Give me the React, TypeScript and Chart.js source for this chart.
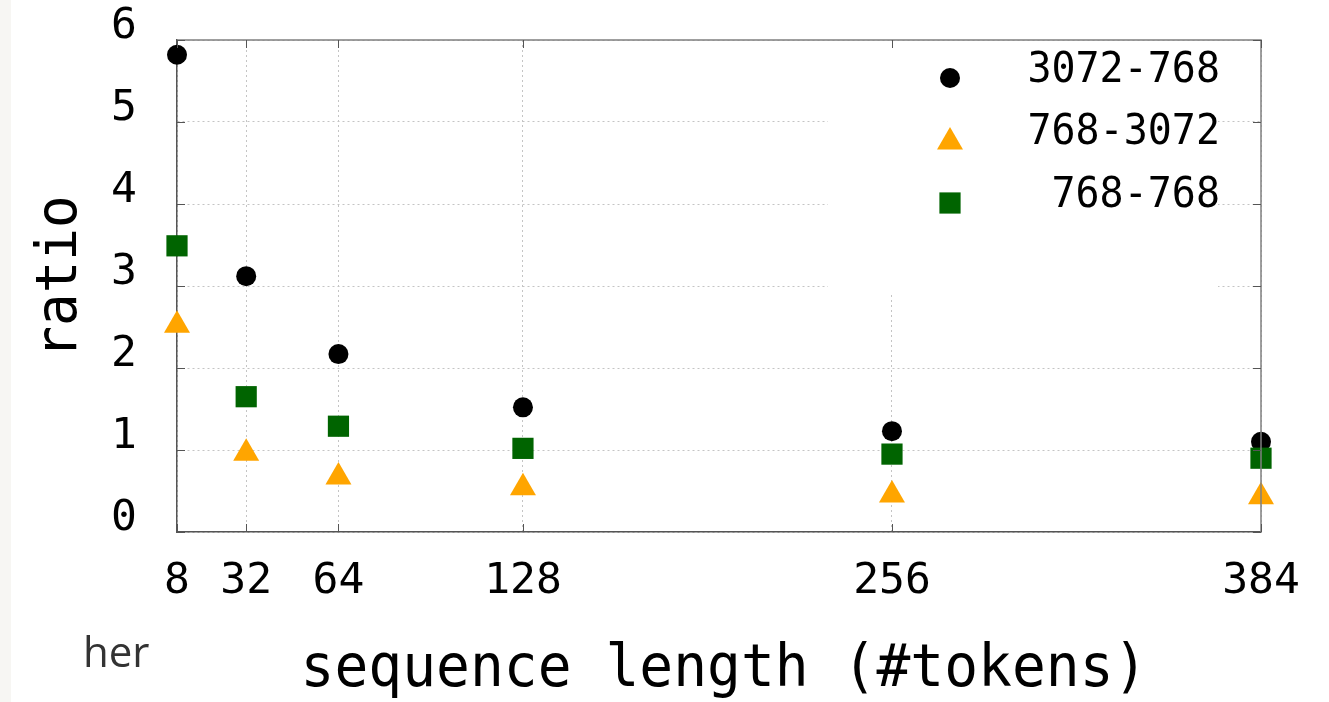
import React, { useEffect, useRef } from "react";
import { Chart, registerables } from "chart.js";
import { drawPoint } from "chart.js/helpers";

Chart.register(...registerables);

const seqLen = [8, 32, 64, 128, 256, 384];
const xTickValues = [8, 32, 64, 128, 256, 384];
const yTickValues = [0, 1, 2, 3, 4, 5, 6];
const ratio3072to768 = [5.82, 3.12, 2.17, 1.52, 1.23, 1.1];
const ratio768to3072 = [2.52, 0.96, 0.67, 0.54, 0.45, 0.43];
const ratio768to768 = [3.49, 1.65, 1.29, 1.02, 0.95, 0.9];
const seriesLabels = ["3072-768", "768-3072", "768-768"];
const seriesColors = ["#000000", "#FFA500", "#006400"];
const seriesStyles = ["circle", "triangle", "rect"];
const seriesRadius = [10, 15, 15];
const xTitle = "sequence length (#tokens)";
const yTitle = "ratio";
const strayText = "her";

const MONO = "'DejaVu Sans Mono', monospace";

const framePlugin = {
  id: "gnuplotFrame",
  beforeDatasetsDraw(chart: any) {
    const { ctx, chartArea: a } = chart;
    ctx.save();
    ctx.fillStyle = "#ffffff";
    ctx.fillRect(a.right - 433, a.top + 1, 390, 254);
    ctx.restore();
  },
  afterDatasetsDraw(chart: any) {
    const { ctx, chartArea: a, scales } = chart;
    const xs = scales.x;
    const ys = scales.y;
    ctx.save();
    ctx.strokeStyle = "#808080";
    ctx.lineWidth = 1.5;
    ctx.beginPath();
    ctx.moveTo(a.left, a.top);
    ctx.lineTo(a.right, a.top);
    ctx.lineTo(a.right, a.bottom);
    ctx.stroke();
    ctx.strokeStyle = "#555555";
    ctx.lineWidth = 1;
    const tl = 8;
    ctx.beginPath();
    xTickValues.forEach((v) => {
      const px = Math.round(xs.getPixelForValue(v)) + 0.5;
      ctx.moveTo(px, a.bottom);
      ctx.lineTo(px, a.bottom - tl);
      ctx.moveTo(px, a.top);
      ctx.lineTo(px, a.top + tl);
    });
    yTickValues.forEach((v) => {
      const py = Math.round(ys.getPixelForValue(v)) + 0.5;
      ctx.moveTo(a.left, py);
      ctx.lineTo(a.left + tl, py);
      ctx.moveTo(a.right, py);
      ctx.lineTo(a.right - tl, py);
    });
    ctx.stroke();
    ctx.restore();
  },
  afterDraw(chart: any) {
    const { ctx, chartArea: a } = chart;
    const markerX = a.right - 311;
    const textRight = a.right - 41;
    const markerY = [a.top + 38, a.top + 102, a.top + 163];
    const textBase = [a.top + 42, a.top + 104, a.top + 167];
    seriesLabels.forEach((lab, i) => {
      ctx.save();
      ctx.fillStyle = seriesColors[i];
      drawPoint(
        ctx,
        { pointStyle: seriesStyles[i], radius: seriesRadius[i], borderWidth: 0, rotation: 0 } as any,
        markerX,
        markerY[i]
      );
      ctx.restore();
      ctx.save();
      ctx.fillStyle = "#000";
      ctx.font = `43px ${MONO}`;
      ctx.textAlign = "right";
      ctx.textBaseline = "alphabetic";
      ctx.translate(textRight, textBase[i]);
      ctx.scale(0.93, 1);
      ctx.fillText(lab, 0, 0);
      ctx.restore();
    });
    ctx.save();
    ctx.fillStyle = "#000";
    ctx.font = `57px ${MONO}`;
    ctx.textAlign = "center";
    ctx.textBaseline = "alphabetic";
    ctx.translate(76, (a.top + a.bottom) / 2 - 9);
    ctx.rotate(-Math.PI / 2);
    ctx.scale(0.95, 1);
    ctx.fillText(yTitle, 0, 0);
    ctx.restore();

    ctx.save();
    ctx.fillStyle = "#000";
    ctx.font = `58px ${MONO}`;
    ctx.textAlign = "center";
    ctx.textBaseline = "alphabetic";
    ctx.translate((a.left + a.right) / 2 + 5, a.bottom + 154);
    ctx.scale(0.97, 1);
    ctx.fillText(xTitle, 0, 0);
    ctx.restore();
  },
};

export default function App() {
  const ref = useRef<HTMLCanvasElement | null>(null);

  useEffect(() => {
    if (!ref.current) return;
    const seriesData = [ratio3072to768, ratio768to3072, ratio768to768];
    const chart = new Chart(ref.current, {
      type: "scatter",
      data: {
        datasets: seriesData.map((vals, i) => ({
          label: seriesLabels[i],
          data: seqLen.map((x, j) => ({ x, y: vals[j] })),
          showLine: false,
          pointStyle: seriesStyles[i] as any,
          pointRadius: seriesRadius[i],
          pointHoverRadius: seriesRadius[i],
          backgroundColor: seriesColors[i],
          borderColor: seriesColors[i],
          pointBorderWidth: 0,
          borderWidth: 0,
          clip: false as any,
          order: 3 - i,
        })),
      },
      options: {
        responsive: false,
        maintainAspectRatio: false,
        devicePixelRatio: 1,
        animation: false,
        events: [],
        layout: { padding: { top: 40, right: 68, left: 0, bottom: 0 } },
        plugins: {
          legend: { display: false },
          tooltip: { enabled: false },
          title: { display: false },
        },
        scales: {
          x: {
            type: "linear",
            min: 8,
            max: 384,
            afterBuildTicks: (scale: any) => {
              scale.ticks = xTickValues.map((v) => ({ value: v }));
            },
            afterFit: (scale: any) => {
              scale.height = 170;
              scale.paddingLeft = 0;
              scale.paddingRight = 0;
            },
            ticks: {
              autoSkip: false,
              maxRotation: 0,
              minRotation: 0,
              padding: 24,
              color: "#000",
              font: { family: MONO, size: 43 },
              callback: (v: any) => String(v),
            },
            grid: { color: "#c4c4c4", lineWidth: 1, drawTicks: false },
            border: { display: true, color: "#555555", width: 1.5, dash: [2, 3] },
          },
          y: {
            type: "linear",
            min: 0,
            max: 6,
            afterBuildTicks: (scale: any) => {
              scale.ticks = yTickValues.map((v) => ({ value: v }));
            },
            afterFit: (scale: any) => {
              scale.width = 177;
              scale.paddingTop = 0;
              scale.paddingBottom = 0;
            },
            ticks: {
              padding: 40,
              labelOffset: -13,
              color: "#000",
              font: { family: MONO, size: 43 },
              callback: (v: any) => String(v),
            },
            grid: { color: "#c4c4c4", lineWidth: 1, drawTicks: false },
            border: { display: true, color: "#555555", width: 1.5, dash: [2, 3] },
          },
        },
      },
      plugins: [framePlugin],
    });
    return () => chart.destroy();
  }, []);

  return (
    <div
      style={{
        position: "fixed",
        left: 0,
        top: 0,
        width: 1329,
        height: 702,
        background: "#ffffff",
        overflow: "hidden",
      }}
    >
      <canvas ref={ref} width={1329} height={702} style={{ display: "block", position: "absolute", left: 0, top: 0 }} />
      <div style={{ position: "absolute", left: 0, top: 0, width: 11, height: 702, background: "#f7f6f3" }} />
      <span
        style={{
          position: "absolute",
          left: 83,
          top: 630,
          fontFamily: "'Open Sans', sans-serif",
          fontSize: 42,
          lineHeight: "42px",
          color: "#333333",
          whiteSpace: "nowrap",
        }}
      >
        {strayText}
      </span>
    </div>
  );
}
